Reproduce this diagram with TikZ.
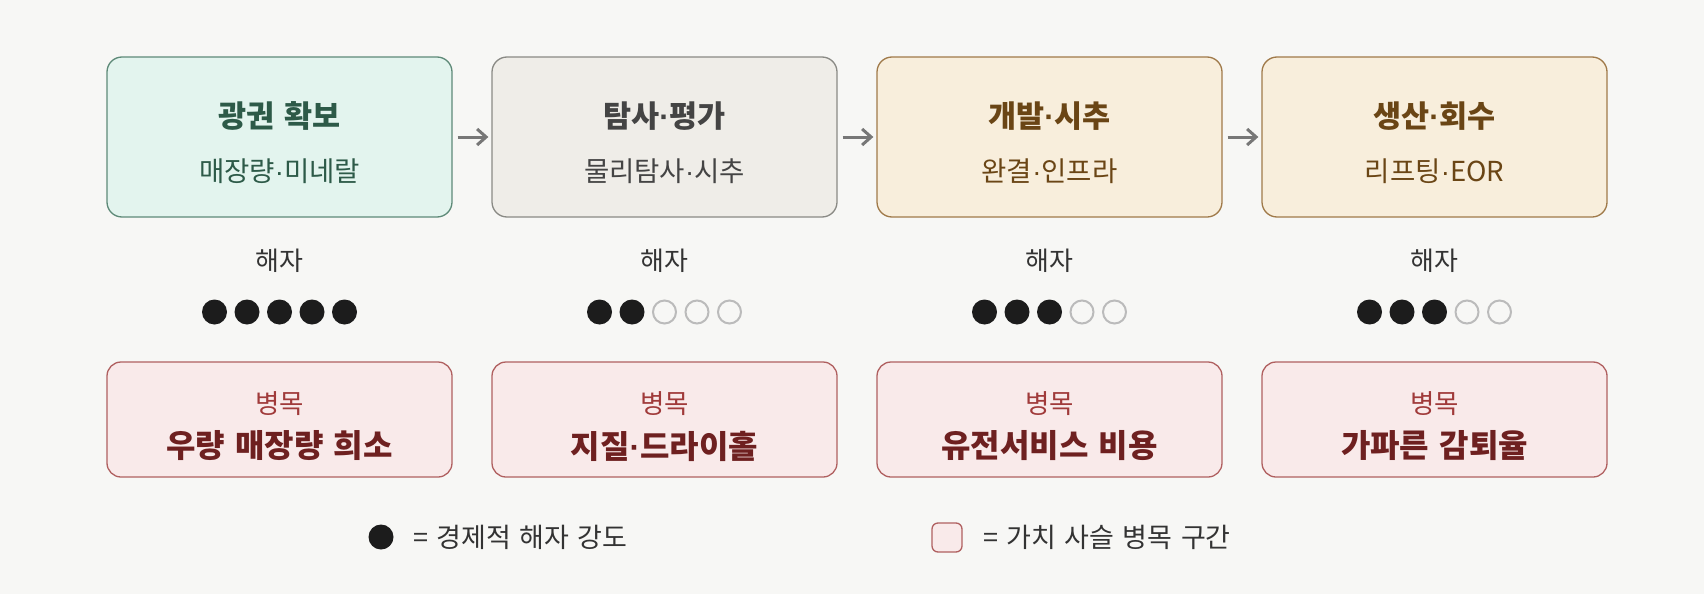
\documentclass[tikz,border=0pt]{standalone}
\usepackage{fontspec}
\setmainfont[WordSpace=1.4]{Noto Sans CJK KR}
\newfontfamily\dotfont{Liberation Sans}
\newcommand{\md}{{\dotfont ·}}
\usetikzlibrary{arrows.meta}
\definecolor{bg}{HTML}{F7F7F5}
\definecolor{gfill}{HTML}{E3F4EE}\definecolor{gdraw}{HTML}{5E8A78}\definecolor{gtext}{HTML}{2D5A48}
\definecolor{sfill}{HTML}{EFEDE8}\definecolor{sdraw}{HTML}{8A8A85}\definecolor{stext}{HTML}{444444}
\definecolor{yfill}{HTML}{F8EEDC}\definecolor{ydraw}{HTML}{A07A4A}\definecolor{ytext}{HTML}{6A4515}
\definecolor{rfill}{HTML}{F9EAEA}\definecolor{rdraw}{HTML}{B06060}\definecolor{rlab}{HTML}{A03A3A}\definecolor{rtext}{HTML}{6E2020}
\definecolor{arrc}{HTML}{777777}
\definecolor{dotc}{HTML}{1C1C1C}
\definecolor{ringc}{HTML}{BBBBBB}
\definecolor{labc}{HTML}{333333}
\tikzset{
  stagebox/.style={rounded corners=15pt, line width=1.3pt, minimum width=345pt, minimum height=160pt, inner sep=0pt},
  neckbox/.style={rounded corners=14pt, line width=1.3pt, draw=rdraw, fill=rfill, minimum width=345pt, minimum height=115pt, inner sep=0pt},
  ttl/.style={font=\fontsize{30.5}{36}\selectfont\bfseries, inner sep=0pt},
  sub/.style={font=\fontsize{27.5}{33}\selectfont, inner sep=0pt},
  moat/.style={font=\fontsize{26}{31}\selectfont, text=labc, inner sep=0pt},
  necklab/.style={font=\fontsize{26.5}{31}\selectfont, text=rlab, inner sep=0pt},
  necktxt/.style={font=\fontsize{32}{38}\selectfont\bfseries, text=rtext, inner sep=0pt},
  full/.style={circle, fill=dotc, minimum size=25pt, inner sep=0pt},
  ring/.style={circle, draw=ringc, line width=2pt, minimum size=23pt, inner sep=0pt},
  arr/.style={-{Straight Barb[length=9pt,width=16pt,line width=3pt]}, line width=3pt, draw=arrc},
  legtxt/.style={font=\fontsize{27}{32}\selectfont, text=labc, inner sep=0pt, anchor=west},
}
\begin{document}
\begin{tikzpicture}[x=1pt,y=-1pt]
\fill[bg] (0,0) rectangle (1704,594);
\useasboundingbox (0,0) rectangle (1704,594);
% top boxes
\node[stagebox, draw=gdraw, fill=gfill] (b1) at (279.5,137) {};
\node[stagebox, draw=sdraw, fill=sfill] (b2) at (664.5,137) {};
\node[stagebox, draw=ydraw, fill=yfill] (b3) at (1049.5,137) {};
\node[stagebox, draw=ydraw, fill=yfill] (b4) at (1434.5,137) {};
\node[ttl, text=gtext] (t1) at (279.5,116) {광권 확보};
\node[sub, text=gtext] (s1) at (279.5,171) {매장량\md 미네랄};
\node[ttl, text=stext] (t2) at (664.5,116) {탐사\md 평가};
\node[sub, text=stext] (s2) at (664.5,171) {물리탐사\md 시추};
\node[ttl, text=ytext] (t3) at (1049.5,116) {개발\md 시추};
\node[sub, text=ytext] (s3) at (1049.5,171) {완결\md 인프라};
\node[ttl, text=ytext] (t4) at (1434.5,116) {생산\md 회수};
\node[sub, text=ytext] (s4) at (1434.5,171) {리프팅\md EOR};
% arrows
\draw[arr] ([xshift=5pt]b1.east) -- ([xshift=-3pt]b2.west);
\draw[arr] ([xshift=5pt]b2.east) -- ([xshift=-3pt]b3.west);
\draw[arr] ([xshift=5pt]b3.east) -- ([xshift=-3pt]b4.west);
% moat labels
\node[moat] (m1) at (279.5,261) {해자};
\node[moat] (m2) at (664.5,261) {해자};
\node[moat] (m3) at (1049.5,261) {해자};
\node[moat] (m4) at (1434.5,261) {해자};
% dots
\foreach \cx/\n/\k in {279.5/5/a,664.5/2/b,1049.5/3/c,1434.5/3/d}{
  \foreach \i in {1,...,5}{
    \pgfmathsetmacro{\px}{\cx+(\i-3)*32.5}
    \ifnum\i>\n
      \node[ring] (d\k\i) at (\px,312) {};
    \else
      \node[full] (d\k\i) at (\px,312) {};
    \fi
  }
}
% bottleneck boxes
\node[neckbox] (n1) at (279.5,419.5) {};
\node[neckbox] (n2) at (664.5,419.5) {};
\node[neckbox] (n3) at (1049.5,419.5) {};
\node[neckbox] (n4) at (1434.5,419.5) {};
\node[necklab] (l1) at (279.5,404) {병목};
\node[necktxt] (x1) at (279.5,446) {우량 매장량 희소};
\node[necklab] (l2) at (664.5,404) {병목};
\node[necktxt] (x2) at (664.5,446) {지질\md 드라이홀};
\node[necklab] (l3) at (1049.5,404) {병목};
\node[necktxt] (x3) at (1049.5,446) {유전서비스 비용};
\node[necklab] (l4) at (1434.5,404) {병목};
\node[necktxt] (x4) at (1434.5,446) {가파른 감퇴율};
% legend
\node[full] (lg1) at (381,537) {};
\node[legtxt] (lt1) at (413,537) {= 경제적 해자 강도};
\node[rounded corners=6pt, draw=rdraw, fill=rfill, line width=1.3pt, minimum width=30pt, minimum height=29pt, inner sep=0pt] (lg2) at (947,537.5) {};
\node[legtxt] (lt2) at (983,537) {= 가치 사슬 병목 구간};
\end{tikzpicture}
\end{document}
